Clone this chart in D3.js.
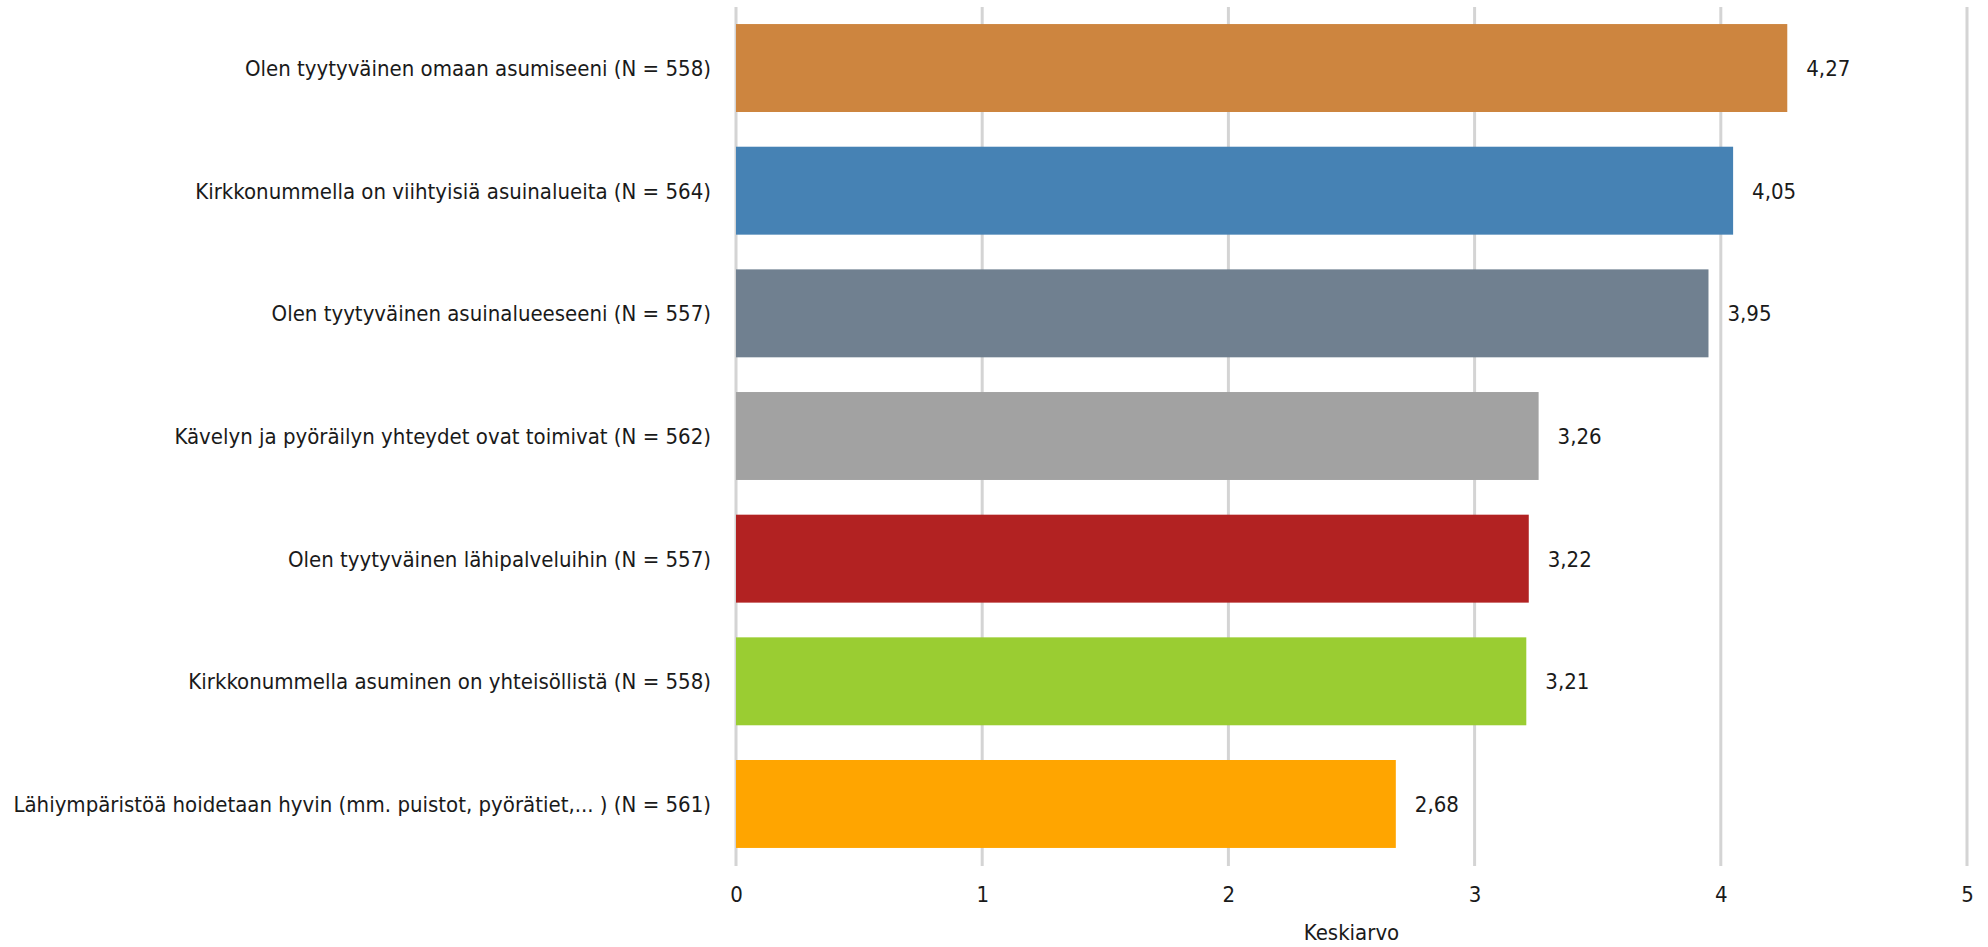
<!DOCTYPE html>
<html>
<head>
<meta charset="utf-8">
<script src="https://cdn.jsdelivr.net/npm/d3@7"></script>
<style>
  html, body { margin: 0; padding: 0; background: #fff; }
  svg { display: block; }
  text { font-family: "Liberation Sans Narrow", "DejaVu Sans Condensed", sans-serif; fill: #1a1a1a; }
</style>
</head>
<body>
<script>
const categories = [
  "Olen tyytyväinen omaan asumiseeni (N = 558)",
  "Kirkkonummella on viihtyisiä asuinalueita (N = 564)",
  "Olen tyytyväinen asuinalueeseeni (N = 557)",
  "Kävelyn ja pyöräilyn yhteydet ovat toimivat (N = 562)",
  "Olen tyytyväinen lähipalveluihin (N = 557)",
  "Kirkkonummella asuminen on yhteisöllistä (N = 558)",
  "Lähiympäristöä hoidetaan hyvin (mm. puistot, pyörätiet,... ) (N = 561)"
];
const values = [4.27, 4.05, 3.95, 3.26, 3.22, 3.21, 2.68];
const valueLabels = ["4,27", "4,05", "3,95", "3,26", "3,22", "3,21", "2,68"];
const colors = ["#CD853F", "#4682B4", "#708090", "#A2A2A2", "#B22222", "#9ACD32", "#FFA500"];
const xTicks = [0, 1, 2, 3, 4, 5];
const xTitle = "Keskiarvo";

const W = 1988, H = 947;
const FS = 22;
const svg = d3.select("body").append("svg").attr("width", W).attr("height", H);

const x = d3.scaleLinear().domain([0, 5]).range([736, 1967]);
const y = d3.scaleBand().domain(categories).range([6.7, 865.3]).paddingInner(0.283).paddingOuter(0.1415);

// gridlines
svg.append("g").selectAll("line").data(xTicks).join("line")
  .attr("x1", d => x(d)).attr("x2", d => x(d))
  .attr("y1", 7).attr("y2", 866)
  .attr("stroke", "#D4D4D4").attr("stroke-width", 3);

// bars
svg.append("g").selectAll("rect").data(values).join("rect")
  .attr("x", x(0))
  .attr("y", (d, i) => y(categories[i]))
  .attr("width", d => x(d) - x(0))
  .attr("height", y.bandwidth())
  .attr("fill", (d, i) => colors[i]);

// value labels
svg.append("g").selectAll("text").data(values).join("text")
  .attr("x", d => x(d) + 19)
  .attr("y", (d, i) => y(categories[i]) + y.bandwidth() / 2)
  .attr("dy", "0.36em")
  .attr("font-size", FS)
  .text((d, i) => valueLabels[i]);

// category labels
svg.append("g").selectAll("text").data(categories).join("text")
  .attr("x", 711)
  .attr("y", d => y(d) + y.bandwidth() / 2)
  .attr("dy", "0.36em")
  .attr("text-anchor", "end")
  .attr("font-size", FS)
  .text(d => d);

// x axis tick labels
const xAxis = d3.axisBottom(x).tickValues(xTicks).tickSize(0).tickPadding(0).tickFormat(d3.format("d"));
const gx = svg.append("g").attr("transform", "translate(0,902)").call(xAxis);
gx.select(".domain").remove();
gx.selectAll("text").attr("font-size", FS).attr("dy", "0").attr("fill", "#1a1a1a")
  .style("font-family", "'Liberation Sans Narrow', 'DejaVu Sans Condensed', sans-serif");

// axis title
svg.append("text")
  .attr("x", (x(0) + x(5)) / 2)
  .attr("y", 940)
  .attr("text-anchor", "middle")
  .attr("font-size", FS)
  .text(xTitle);
</script>
</body>
</html>
